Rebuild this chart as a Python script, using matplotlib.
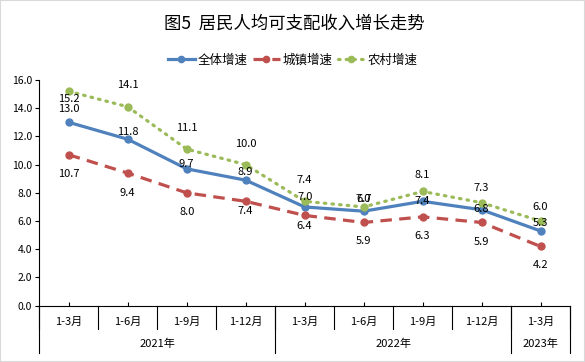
import matplotlib
matplotlib.use('Agg')
import matplotlib.pyplot as plt
from matplotlib.patches import Rectangle

plt.rcParams['font.family'] = ['Noto Sans CJK SC', 'DejaVu Sans']

# 数据
months = ['1-3月', '1-6月', '1-9月', '1-12月', '1-3月', '1-6月', '1-9月', '1-12月', '1-3月']
years = ['2021年', '2022年', '2023年']
year_spans = [4, 4, 1]
total = [13.0, 11.8, 9.7, 8.9, 7.0, 6.7, 7.4, 6.8, 5.3]
urban = [10.7, 9.4, 8.0, 7.4, 6.4, 5.9, 6.3, 5.9, 4.2]
rural = [15.2, 14.1, 11.1, 10.0, 7.4, 7.0, 8.1, 7.3, 6.0]

# 数据标签的偏移(像素)
off_total = [13, 7, 5, 8, 10, 12, 0, 1, 8]
off_urban = [-19, -20, -19, -10, -11, -19, -19, -20, -19]
off_rural = [-8, 22, 21, 21, 21, 8, 16, 15, 14]

fig = plt.figure(figsize=(5.85, 3.62), dpi=100)
ax = fig.add_axes([0.0672, 0.1555, 0.9072, 0.6235])

x = list(range(len(months)))
series = [
    (total, '全体增速', '#4F81BD', '-', 'butt', off_total),
    (urban, '城镇增速', '#C0504D', (0, (3.6, 2.3)), 'butt', off_urban),
    (rural, '农村增速', '#9BBB59', (0, (0.5, 1.9)), 'round', off_rural),
]
for vals, name, color, ls, cap, offs in series:
    ax.plot(x, vals, color=color, linestyle=ls, lw=2.3, marker='o', markersize=5,
            label=name, dash_capstyle=cap)
    for xi, v, o in zip(x, vals, offs):
        ax.annotate(f'{v:.1f}', (xi, v), xytext=(0, o), textcoords='offset pixels',
                    ha='center', va='center', fontsize=8, color='#000000')

ax.set_xlim(-0.5, len(months) - 0.5)
ax.set_ylim(0, 16)
ax.set_yticks([i * 2.0 for i in range(9)])
ax.set_yticklabels([f'{i * 2.0:.1f}' for i in range(9)], fontsize=7.5)
ax.set_xticks(x)
ax.set_xticklabels([])
ax.tick_params(axis='x', direction='in', length=3, width=0.8)
ax.tick_params(axis='y', direction='out', length=3, width=0.8, pad=2)
for s in ['top', 'right']:
    ax.spines[s].set_visible(False)
for s in ['left', 'bottom']:
    ax.spines[s].set_linewidth(0.8)

# 两级分类轴
tr = ax.get_xaxis_transform()
for xi, m in zip(x, months):
    ax.text(xi, -0.071, m, transform=tr, ha='center', va='center', fontsize=8)
for k in range(len(months) + 1):
    ax.plot([k - 0.5, k - 0.5], [0, -0.103], transform=tr, color='black', lw=0.8, clip_on=False)
start = 0
for yname, span in zip(years, year_spans):
    ax.text(start + span / 2 - 0.5, -0.167, yname, transform=tr, ha='center', va='center', fontsize=8)
    ax.plot([start - 0.5, start - 0.5], [0, -0.21], transform=tr, color='black', lw=0.8, clip_on=False)
    start += span
ax.plot([start - 0.5, start - 0.5], [0, -0.21], transform=tr, color='black', lw=0.8, clip_on=False)

fig.text(0.503, 0.936, '图5  居民人均可支配收入增长走势', ha='center', va='center',
         fontsize=12.5, fontweight='light')
fig.legend(loc='center', bbox_to_anchor=(0.5, 0.834), ncol=3, frameon=False, fontsize=9,
           handlelength=2.2, handletextpad=0.2, columnspacing=0.4, markerscale=0.9)

fig.patches.append(Rectangle((0, 0), 1, 1, transform=fig.transFigure, fill=False,
                             edgecolor='#D9D9D9', lw=1.5))

fig.savefig('out.png', dpi=100)
